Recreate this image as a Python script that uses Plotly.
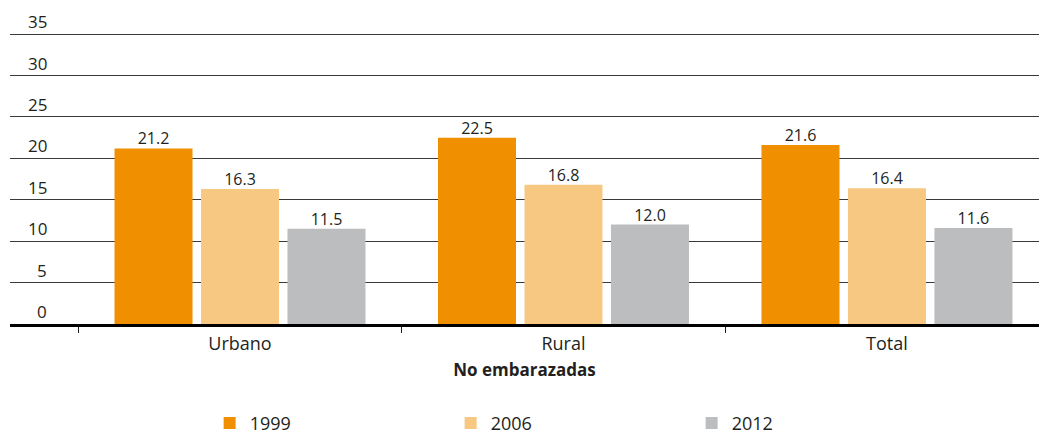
import plotly.graph_objects as go

categories = ["Urbano", "Rural", "Total"]
years = ["1999", "2006", "2012"]
values_1999 = [21.2, 22.5, 21.6]
values_2006 = [16.3, 16.8, 16.4]
values_2012 = [11.5, 12.0, 11.6]
y_ticks = [0, 5, 10, 15, 20, 25, 30, 35]
colors = ["#F09000", "#F7C882", "#BCBDBF"]

series = [values_1999, values_2006, values_2012]
text_color = "#231F20"
gap = 0.198

fig = go.Figure()
for name, vals, col in zip(years, series, colors):
    fig.add_trace(go.Bar(
        x=categories, y=vals, name=name,
        marker=dict(color=col, line=dict(width=0)),
        offsetgroup=name, alignmentgroup="g",
        hoverinfo="x+y+name",
    ))
for name, vals in zip(years, series):
    fig.add_trace(go.Scatter(
        x=categories, y=vals, name=name, mode="text",
        text=[f"{v:.1f}" for v in vals],
        textposition="top center",
        textfont=dict(family="Open Sans", size=16, color=text_color),
        offsetgroup=name, alignmentgroup="g",
        showlegend=False, cliponaxis=False,
        hoverinfo="skip",
    ))

for t in y_ticks:
    fig.add_annotation(
        x=0.038, xref="paper", y=t, yref="y",
        text=str(t), showarrow=False,
        xanchor="right", yanchor="bottom", yshift=-1,
        font=dict(family="Open Sans", size=17, color=text_color),
    )

fig.update_layout(
    width=1039, height=434,
    margin=dict(l=10, r=0, t=30, b=110, autoexpand=False),
    paper_bgcolor="white", plot_bgcolor="white",
    barmode="group", bargap=gap, bargroupgap=0.098,
    scattermode="group", scattergap=gap,
    font=dict(family="Open Sans", size=17, color=text_color),
    showlegend=True,
    legend=dict(
        orientation="h", x=0.194, xanchor="left", y=-0.275, yanchor="top",
        entrywidth=196, entrywidthmode="pixels",
        font=dict(family="Liberation Sans Narrow, Open Sans", size=18, color=text_color),
        traceorder="normal",
    ),
    xaxis=dict(
        type="category", range=[-0.711, 2.47],
        tickson="boundaries", ticks="outside", ticklen=6, tickcolor="#231F20", tickwidth=1,
        ticklabelstandoff=2,
        showline=True, linecolor="black", linewidth=2.5,
        showgrid=False,
        tickfont=dict(family="Open Sans", size=18, color=text_color),
        title=dict(text="<b>No embarazadas</b>", standoff=10,
                   font=dict(family="Open Sans", size=17, color=text_color)),
    ),
    yaxis=dict(
        range=[0, 35.5], tickvals=y_ticks, showticklabels=False,
        showgrid=True, gridcolor="#3A3A3A", gridwidth=1,
        zeroline=False, showline=False, fixedrange=True,
    ),
)

fig.write_html("out.html", config={"displayModeBar": False},
               post_script="document.body.style.margin='0';document.body.style.padding='0';")
